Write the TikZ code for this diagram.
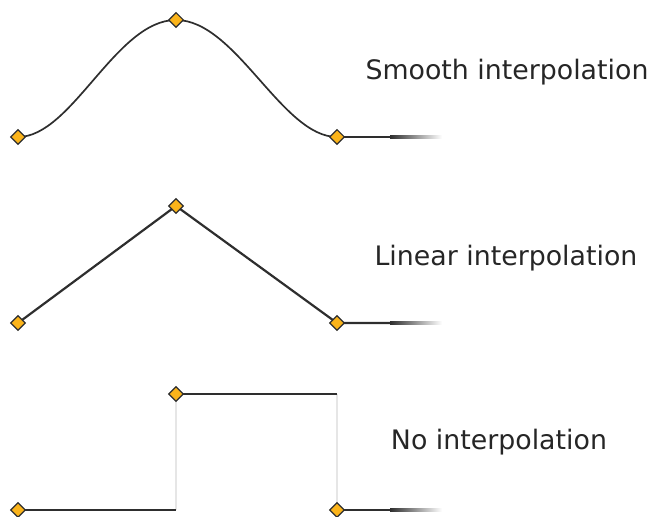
\documentclass[tikz,border=0pt]{standalone}
\usepackage{fontspec}
\setmainfont{DejaVu Sans}
\usetikzlibrary{shapes.geometric}
\definecolor{ln}{HTML}{2E2E2E}
\definecolor{kf}{HTML}{FBB41A}
\definecolor{gl}{HTML}{E6E6E6}
\tikzset{
  key/.style={shape=diamond,draw=ln,line width=1.1pt,fill=kf,minimum size=15pt,inner sep=0pt},
  seg/.style={draw=ln,line width=2.2pt},
  curve/.style={draw=ln,line width=1.7pt},
  guide/.style={draw=gl,line width=1.3pt},
  lbl/.style={font=\fontsize{26.8}{32}\selectfont,text=black!85}
}
\begin{document}
\begin{tikzpicture}[x=1pt,y=1pt]
\useasboundingbox (0,0) rectangle (651,517);
% coordinates
\coordinate (A1) at (18,380);
\coordinate (A2) at (176,497);
\coordinate (A3) at (337,380);
\coordinate (Af) at (390,380);
\coordinate (B1) at (18,194);
\coordinate (B2) at (176,311);
\coordinate (B3) at (337,194);
\coordinate (Bf) at (390,194);
\coordinate (C1) at (18,7);
\coordinate (Cb) at (176,7);
\coordinate (C2) at (176,123);
\coordinate (Ct) at (337,123);
\coordinate (C3) at (337,7);
\coordinate (Cf) at (390,7);
% smooth
\draw[curve] (A1) .. controls (72,380) and (116,497) .. (A2)
                  .. controls (236,497) and (282,380) .. (A3);
\draw[seg] (A3) -- (Af);
\shade[left color=ln,right color=white] (390,378.9) rectangle (442,381.1);
% linear
\draw[seg] (B1) -- (B2) -- (B3) -- (Bf);
\shade[left color=ln,right color=white] (390,192.9) rectangle (442,195.1);
% none
\draw[guide] (Cb) -- (C2);
\draw[guide] (Ct) -- (C3);
\draw[seg] (C1) -- (Cb);
\draw[seg] (C2) -- (Ct);
\draw[seg] (C3) -- (Cf);
\shade[left color=ln,right color=white] (390,5.9) rectangle (442,8.1);
% keys
\foreach \p in {A1,A2,A3,B1,B2,B3,C1,C2,C3}
  \node[key] (k\p) at (\p) {};
% labels
\node[lbl] (ls) at (507,445) {Smooth interpolation};
\node[lbl] (ll) at (506,259) {Linear interpolation};
\node[lbl] (ln) at (499,75) {No interpolation};
\end{tikzpicture}
\end{document}
